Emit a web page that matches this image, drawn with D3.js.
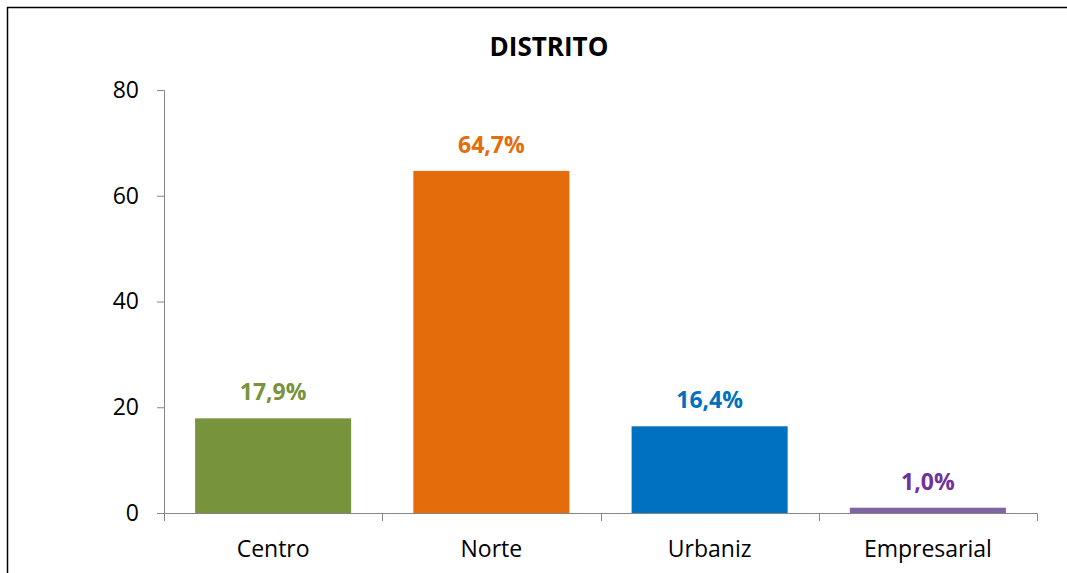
<!DOCTYPE html>
<html>
<head>
<meta charset="utf-8">
<script src="https://cdn.jsdelivr.net/npm/d3@7"></script>
<style>
  body { margin: 0; background: #fff; }
  svg text { font-family: "Open Sans", Carlito, Calibri, sans-serif; }
</style>
</head>
<body>
<div id="graph"></div>
<script>
(function(){
"use strict";

var categories = ["Centro", "Norte", "Urbaniz", "Empresarial"];
var values = [17.9, 64.7, 16.4, 1.0];
var labels = ["17,9%", "64,7%", "16,4%", "1,0%"];
var colors = ["#77933C", "#E46C0A", "#0070C0", "#8064A2"];
var labelColors = ["#77933C", "#E46C0A", "#0070C0", "#7030A0"];
var yTicks = [0, 20, 40, 60, 80];

var width = 1067, height = 573;

var svg = d3.select("#graph")
  .append("svg")
    .attr("width", width)
    .attr("height", height);

// chart frame
svg.append("rect")
  .attr("x", 7.5).attr("y", 7.5)
  .attr("width", width + 20).attr("height", height + 20)
  .attr("fill", "none")
  .attr("stroke", "#000")
  .attr("stroke-width", 1.5);

var x = d3.scaleBand()
  .domain(categories)
  .range([164, 1037])
  .paddingInner(0.285)
  .paddingOuter(0.1425);

var y = d3.scaleLinear()
  .domain([0, 80])
  .range([513, 90]);

// title
svg.append("text")
  .attr("x", 549).attr("y", 56)
  .attr("text-anchor", "middle")
  .style("font-size", "26px")
  .style("font-weight", "bold")
  .text("DISTRITO");

// y axis
var yAxis = d3.axisLeft(y)
  .tickValues(yTicks)
  .tickSize(7)
  .tickPadding(18);
var gy = svg.append("g")
  .attr("transform", "translate(164,0)")
  .call(yAxis);
gy.select(".domain").attr("stroke", "#868686").attr("d", "M-7,90.5H0.5V513.5H-7");
gy.selectAll(".tick line").attr("stroke", "#868686");
gy.selectAll(".tick text").style("font-size", "23px").attr("fill", "#000");

// bars
svg.selectAll(".bar")
  .data(values)
  .enter()
  .append("rect")
    .attr("class", "bar")
    .attr("x", function(d, i){ return x(categories[i]); })
    .attr("width", x.bandwidth())
    .attr("y", function(d){ return y(d); })
    .attr("height", function(d){ return y(0) - y(d); })
    .attr("fill", function(d, i){ return colors[i]; });

// x axis (drawn over the bars' base)
var xAxis = d3.axisBottom(x).tickSize(0).tickPadding(27);
var gx = svg.append("g")
  .attr("transform", "translate(0,513.5)")
  .call(xAxis);
gx.select(".domain").attr("stroke", "#868686").attr("d", "M164,0H1037");
gx.selectAll(".tick text").style("font-size", "23px").attr("fill", "#000");

// category boundary ticks
var bounds = categories.map(function(c){ return x(c) - x.step() * x.paddingInner() / 2; });
bounds.push(1037);
svg.selectAll(".btick")
  .data(bounds)
  .enter()
  .append("line")
    .attr("class", "btick")
    .attr("x1", function(d){ return Math.round(d) + 0.5; })
    .attr("x2", function(d){ return Math.round(d) + 0.5; })
    .attr("y1", 513.5).attr("y2", 521)
    .attr("stroke", "#868686");

// value labels
svg.selectAll(".vlabel")
  .data(values)
  .enter()
  .append("text")
    .attr("class", "vlabel")
    .attr("x", function(d, i){ return x(categories[i]) + x.bandwidth() / 2; })
    .attr("y", function(d){ return y(d) - 18; })
    .attr("text-anchor", "middle")
    .style("font-size", "23px")
    .style("font-weight", "bold")
    .attr("fill", function(d, i){ return labelColors[i]; })
    .text(function(d, i){ return labels[i]; });

})();
</script>
</body>
</html>
